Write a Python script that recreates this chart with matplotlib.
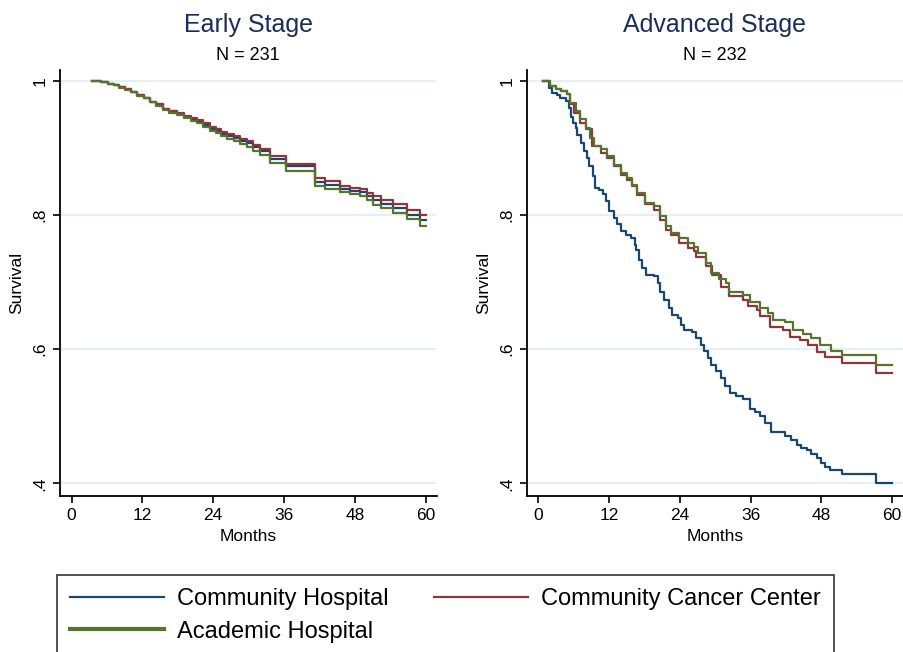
import matplotlib
matplotlib.use("Agg")
import matplotlib.pyplot as plt

# Kaplan-Meier step curves (months, survival)
groups = ["Community Hospital", "Community Cancer Center", "Academic Hospital"]
colors = ["#1a476f", "#90353b", "#55752f"]

# Early stage: common event times, one survival list per group
early_t = [3.4, 5.0, 6.2, 7.1, 8.0, 9.0, 10.0, 11.0, 12.2, 13.3, 14.3, 15.5, 16.5,
           17.8, 19.0, 20.2, 21.2, 22.3, 23.4, 24.5, 25.4, 26.3, 27.5, 28.6, 29.7,
           30.8, 31.9, 33.6, 36.4, 41.2, 43.0, 45.5, 47.2, 48.9, 50.0, 51.1, 52.5,
           54.5, 56.8, 59.0, 60.0]
early_cc = [1.0, 0.998, 0.996, 0.994, 0.991, 0.988, 0.984, 0.979, 0.975, 0.969, 0.965,
            0.958, 0.955, 0.952, 0.948, 0.945, 0.942, 0.937, 0.932, 0.928, 0.924, 0.921,
            0.918, 0.914, 0.911, 0.905, 0.899, 0.888, 0.876, 0.855, 0.851, 0.844, 0.841,
            0.839, 0.833, 0.828, 0.823, 0.816, 0.807, 0.800, 0.800]
early_ch = [1.0, 0.998, 0.996, 0.994, 0.991, 0.988, 0.984, 0.979, 0.975, 0.969, 0.965,
            0.958, 0.955, 0.951, 0.947, 0.944, 0.941, 0.935, 0.929, 0.925, 0.921, 0.918,
            0.915, 0.911, 0.907, 0.901, 0.895, 0.884, 0.873, 0.849, 0.845, 0.839, 0.836,
            0.834, 0.828, 0.822, 0.817, 0.810, 0.800, 0.792, 0.792]
early_ah = [1.0, 0.998, 0.996, 0.994, 0.990, 0.987, 0.983, 0.978, 0.974, 0.968, 0.963,
            0.956, 0.952, 0.949, 0.945, 0.941, 0.938, 0.932, 0.926, 0.922, 0.918, 0.914,
            0.911, 0.906, 0.902, 0.895, 0.889, 0.878, 0.866, 0.843, 0.839, 0.834, 0.831,
            0.829, 0.822, 0.815, 0.810, 0.803, 0.794, 0.784, 0.784]

# Advanced stage: each group has its own event times
adv_ch_t = [0.85, 1.8, 2.3, 3.2, 3.7, 4.6, 5.2, 5.5, 5.8, 6.3, 6.6, 7.2, 7.8, 8.3, 8.6,
            9.2, 9.6, 10.3, 10.9, 11.4, 12.0, 12.9, 13.4, 14.0, 14.8, 15.7, 16.3, 16.5,
            17.0, 17.6, 18.2, 19.6, 20.2, 20.7, 21.3, 22.2, 22.7, 23.6, 24.1, 24.7,
            26.1, 26.7, 27.5, 28.1, 28.7, 29.2, 30.1, 30.9, 31.6, 32.5, 33.5, 34.7,
            35.9, 36.8, 37.6, 38.5, 39.5, 41.8, 42.8, 43.8, 44.6, 45.5, 46.3, 47.2,
            48.0, 48.6, 49.5, 51.4, 57.2, 60.0]
adv_ch_s = [1.0, 0.990, 0.982, 0.979, 0.975, 0.970, 0.960, 0.947, 0.938, 0.930, 0.920,
            0.908, 0.895, 0.885, 0.873, 0.858, 0.841, 0.838, 0.831, 0.821, 0.806, 0.796,
            0.786, 0.776, 0.771, 0.766, 0.756, 0.748, 0.733, 0.721, 0.711, 0.709, 0.699,
            0.686, 0.674, 0.661, 0.651, 0.646, 0.636, 0.629, 0.626, 0.617, 0.607, 0.597,
            0.587, 0.577, 0.567, 0.557, 0.545, 0.534, 0.530, 0.526, 0.511, 0.506, 0.501,
            0.490, 0.476, 0.471, 0.464, 0.457, 0.453, 0.449, 0.443, 0.437, 0.430, 0.424,
            0.420, 0.414, 0.400, 0.400]
adv_cc_t = [0.85, 2.0, 3.0, 3.8, 4.9, 5.4, 6.0, 7.1, 8.0, 9.1, 10.6, 11.7, 12.8, 14.0,
            15.1, 15.9, 16.8, 18.0, 19.6, 20.7, 21.6, 22.5, 23.9, 25.3, 26.4, 26.8,
            28.4, 29.5, 31.0, 32.4, 34.7, 35.6, 37.0, 37.6, 39.3, 41.5, 42.7, 44.4,
            45.8, 47.2, 48.6, 51.4, 57.2, 60.0]
adv_cc_s = [1.0, 0.993, 0.988, 0.985, 0.980, 0.965, 0.952, 0.938, 0.928, 0.903, 0.893,
            0.885, 0.873, 0.860, 0.853, 0.843, 0.830, 0.816, 0.808, 0.793, 0.778, 0.770,
            0.758, 0.751, 0.746, 0.738, 0.724, 0.711, 0.693, 0.679, 0.674, 0.664, 0.658,
            0.650, 0.633, 0.628, 0.618, 0.613, 0.606, 0.596, 0.588, 0.579, 0.565, 0.565]
adv_ah_t = [0.85, 2.0, 3.0, 3.8, 4.9, 5.4, 6.3, 7.1, 8.0, 8.8, 9.4, 10.6, 11.7, 12.8,
            14.0, 15.1, 15.9, 16.8, 18.0, 19.6, 20.7, 21.6, 22.5, 23.9, 25.3, 26.4,
            27.0, 28.4, 29.2, 30.7, 31.8, 32.4, 34.7, 35.8, 37.5, 38.9, 39.8, 41.8,
            43.2, 44.9, 46.3, 47.7, 49.7, 51.4, 57.2, 60.0]
adv_ah_s = [1.0, 0.993, 0.988, 0.985, 0.980, 0.967, 0.955, 0.943, 0.930, 0.915, 0.903,
            0.898, 0.888, 0.875, 0.863, 0.855, 0.845, 0.833, 0.818, 0.813, 0.798, 0.783,
            0.773, 0.766, 0.758, 0.753, 0.743, 0.729, 0.714, 0.704, 0.699, 0.686, 0.681,
            0.671, 0.661, 0.654, 0.643, 0.641, 0.628, 0.623, 0.616, 0.606, 0.598, 0.591,
            0.577, 0.577]

panels = [
    ("Early Stage", "N = 231",
     [(early_t, early_ch), (early_t, early_cc), (early_t, early_ah)]),
    ("Advanced Stage", "N = 232",
     [(adv_ch_t, adv_ch_s), (adv_cc_t, adv_cc_s), (adv_ah_t, adv_ah_s)]),
]
x_ticks = [0, 12, 24, 36, 48, 60]
y_ticks = [0.4, 0.6, 0.8, 1.0]
y_ticklabels = [".4", ".6", ".8", "1"]

plt.rcParams["font.family"] = ["Liberation Sans", "DejaVu Sans"]

fig = plt.figure(figsize=(9.04, 6.52), dpi=100)
W, H = 904, 652
lefts = [60, 526.7]
handles = []
for (title, sub, curves), lx in zip(panels, lefts):
    ax = fig.add_axes([lx / W, 1 - 495.7 / H, 376.5 / W, 425.7 / H])
    for yv in y_ticks:
        ax.axhline(yv, color="#e6eff1", lw=1.6, zorder=0)
    for (t, s), c, g in zip(curves, colors, groups):
        ln, = ax.step(t, s, where="post", color=c, lw=1.6, label=g)
        if len(handles) < 3:
            handles.append(ln)
    ax.set_xlim(-1.98, 61.86)
    ax.set_ylim(0.3815, 1.0164)
    ax.set_xticks(x_ticks)
    ax.set_yticks(y_ticks)
    ax.set_yticklabels(y_ticklabels, rotation=90, va="center")
    ax.tick_params(direction="out", length=5, width=1.2, labelsize=12.5, pad=4)
    for side in ["top", "right"]:
        ax.spines[side].set_visible(False)
    for side in ["left", "bottom"]:
        ax.spines[side].set_linewidth(1.3)
    ax.set_xlabel("Months", fontsize=12.5, labelpad=4)
    ax.set_ylabel("Survival", fontsize=12.5, labelpad=6)
    cx = (lx + 376.5 / 2) / W
    fig.text(cx, 1 - 25 / H, title, ha="center", va="center", fontsize=18, color="#1c2d5c")
    fig.text(cx, 1 - 56 / H, sub, ha="center", va="center", fontsize=13, color="black")

# legend order fills columns first: CH, AH in column 1, CCC in column 2
order = [0, 2, 1]
leg = fig.legend([handles[i] for i in order], [groups[i] for i in order],
                 loc="upper left", bbox_to_anchor=(57 / W, 1 - 575 / H),
                 ncol=2, fontsize=17, frameon=True, fancybox=False, edgecolor="black",
                 handlelength=4.0, handletextpad=0.55, columnspacing=1.9, borderpad=0.55,
                 labelspacing=0.45, borderaxespad=0)
leg.get_frame().set_linewidth(1.2)
leg.legend_handles[1].set_linewidth(3)

fig.savefig("out.png", dpi=100)
